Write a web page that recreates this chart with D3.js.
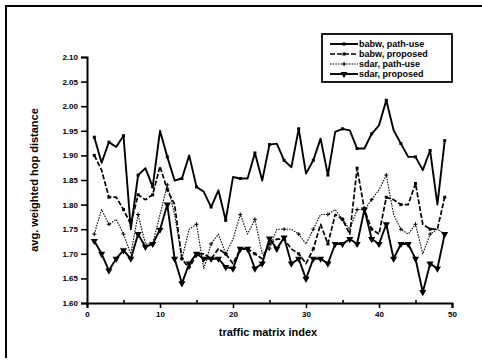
<!DOCTYPE html>
<html>
<head>
<meta charset="utf-8">
<script src="https://cdn.jsdelivr.net/npm/d3@7"></script>
<style>
  body { margin: 0; background: #fff; }
  svg { display: block; font-family: "Liberation Sans", Arial, sans-serif; }
</style>
</head>
<body>
<svg id="chart" width="482" height="364"></svg>
<script>
// traffic matrix index 1..49
const idx = d3.range(1, 50);

const babwPathUse = [1.937, 1.885, 1.927, 1.917, 1.940, 1.750, 1.860, 1.874, 1.836, 1.950,
  1.897, 1.849, 1.853, 1.900, 1.836, 1.826, 1.795, 1.829, 1.768, 1.856,
  1.853, 1.853, 1.905, 1.849, 1.922, 1.924, 1.890, 1.876, 1.954, 1.863,
  1.890, 1.934, 1.860, 1.948, 1.954, 1.951, 1.914, 1.914, 1.944, 1.961,
  2.012, 1.951, 1.924, 1.897, 1.897, 1.870, 1.910, 1.800, 1.930];

const babwProposed = [1.900, 1.870, 1.815, 1.815, 1.790, 1.760, 1.820, 1.810, 1.820, 1.878,
  1.830, 1.800, 1.690, 1.670, 1.700, 1.700, 1.690, 1.710, 1.700, 1.680,
  1.710, 1.710, 1.700, 1.690, 1.720, 1.730, 1.730, 1.710, 1.700, 1.680,
  1.710, 1.760, 1.720, 1.780, 1.770, 1.740, 1.874, 1.790, 1.750, 1.740,
  1.815, 1.810, 1.800, 1.800, 1.843, 1.760, 1.750, 1.750, 1.815];

const sdarPathUse = [1.740, 1.790, 1.760, 1.770, 1.740, 1.700, 1.780, 1.720, 1.720, 1.780,
  1.840, 1.780, 1.690, 1.750, 1.760, 1.670, 1.720, 1.740, 1.700, 1.730,
  1.780, 1.740, 1.770, 1.700, 1.710, 1.750, 1.750, 1.750, 1.740, 1.720,
  1.750, 1.780, 1.780, 1.790, 1.770, 1.750, 1.790, 1.790, 1.810, 1.830,
  1.860, 1.780, 1.750, 1.740, 1.760, 1.700, 1.740, 1.750, 1.740];

const sdarProposed = [1.726, 1.700, 1.666, 1.690, 1.707, 1.690, 1.740, 1.714, 1.720, 1.749,
  1.800, 1.690, 1.640, 1.680, 1.700, 1.690, 1.690, 1.690, 1.673, 1.670,
  1.710, 1.710, 1.670, 1.680, 1.731, 1.710, 1.733, 1.680, 1.690, 1.649,
  1.690, 1.690, 1.680, 1.720, 1.720, 1.730, 1.720, 1.790, 1.730, 1.720,
  1.760, 1.690, 1.720, 1.720, 1.690, 1.622, 1.680, 1.670, 1.740];

const seriesNames = ["babw, path-use", "babw, proposed", "sdar, path-use", "sdar, proposed"];
const seriesValues = [babwPathUse, babwProposed, sdarPathUse, sdarProposed];

const xTicks = [0, 10, 20, 30, 40, 50];
const xMinorTicks = [5, 15, 25, 35, 45];
const yTicks = [1.60, 1.65, 1.70, 1.75, 1.80, 1.85, 1.90, 1.95, 2.00, 2.05, 2.10];

const svg = d3.select("#chart");

// scanned page frame (top and left edges only)
svg.append("path")
  .attr("d", "M6,358 L6,6 L482,6")
  .attr("fill", "none")
  .attr("stroke", "#000")
  .attr("stroke-width", 2);

const x = d3.scaleLinear().domain([0, 50]).range([87, 452]);
const y = d3.scaleLinear().domain([1.60, 2.10]).range([303, 57]);

// x axis
const xAxis = svg.append("g")
  .attr("transform", `translate(0,${y(1.60)})`)
  .call(d3.axisBottom(x).tickValues(xTicks).tickFormat(d3.format("d")).tickSize(5).tickPadding(3));
xAxis.selectAll(".tick text").attr("font-size", 8).attr("font-weight", "bold");
svg.append("g")
  .attr("transform", `translate(0,${y(1.60)})`)
  .call(d3.axisBottom(x).tickValues(xMinorTicks).tickFormat("").tickSize(-3))
  .select(".domain").remove();

// y axis
const yAxis = svg.append("g")
  .attr("transform", `translate(${x(0)},0)`)
  .call(d3.axisLeft(y).tickValues(yTicks).tickFormat(d3.format(".2f")).tickSize(6).tickPadding(3));
yAxis.selectAll(".tick text").attr("font-size", 8).attr("font-weight", "bold");

svg.selectAll(".domain").attr("stroke-width", 2);
svg.selectAll(".tick line").attr("stroke-width", 1.6);

// axis titles
svg.append("text")
  .attr("x", 268).attr("y", 336)
  .attr("text-anchor", "middle")
  .attr("font-size", 11).attr("font-weight", "bold")
  .text("traffic matrix index");

svg.append("text")
  .attr("transform", `translate(38,${(57 + 303) / 2}) rotate(-90)`)
  .attr("text-anchor", "middle")
  .attr("font-size", 11).attr("font-weight", "bold")
  .text("avg. weighted hop distance");

// line styles per series
const styles = [
  { dash: null, width: 1.9, marker: "square" },
  { dash: "5,2", width: 1.7, marker: "square" },
  { dash: "1.5,1.2", width: 1.1, marker: "plus" },
  { dash: null, width: 1.9, marker: "tri" }
];

const line = d3.line().x((d, i) => x(idx[i])).y(d => y(d));

function drawMarker(g, kind, cx, cy) {
  if (kind === "square") {
    g.append("rect").attr("x", cx - 1.5).attr("y", cy - 1.5)
      .attr("width", 3).attr("height", 3).attr("fill", "#000");
  } else if (kind === "plus") {
    g.append("path").attr("d", `M${cx - 2},${cy}H${cx + 2}M${cx},${cy - 2}V${cy + 2}`)
      .attr("stroke", "#000").attr("stroke-width", 1);
  } else {
    g.append("path")
      .attr("d", d3.symbol().type(d3.symbolTriangle).size(22)())
      .attr("transform", `translate(${cx},${cy}) rotate(180)`)
      .attr("fill", "#000");
  }
}

seriesValues.forEach((vals, s) => {
  const st = styles[s];
  svg.append("path")
    .datum(vals)
    .attr("d", line)
    .attr("fill", "none")
    .attr("stroke", "#000")
    .attr("stroke-width", st.width)
    .attr("stroke-dasharray", st.dash)
    .attr("stroke-linejoin", "round");
  const mg = svg.append("g");
  vals.forEach((v, i) => {
    if (s < 3 && i % 2 === 1) return;
    drawMarker(mg, st.marker, x(idx[i]), y(v));
  });
});

// legend
const legend = svg.append("g").attr("transform", "translate(322,34)");
legend.append("rect")
  .attr("width", 130).attr("height", 48)
  .attr("fill", "#fff").attr("stroke", "#000").attr("stroke-width", 1.8);

seriesNames.forEach((name, s) => {
  const st = styles[s];
  const ly = 10 + s * 10;
  legend.append("line")
    .attr("x1", 8).attr("x2", 36).attr("y1", ly).attr("y2", ly)
    .attr("stroke", "#000").attr("stroke-width", st.width)
    .attr("stroke-dasharray", st.dash);
  drawMarker(legend, st.marker, 22, ly);
  legend.append("text")
    .attr("x", 37).attr("y", ly + 3)
    .attr("font-size", 9).attr("font-weight", "bold")
    .text(name);
});
</script>
</body>
</html>
